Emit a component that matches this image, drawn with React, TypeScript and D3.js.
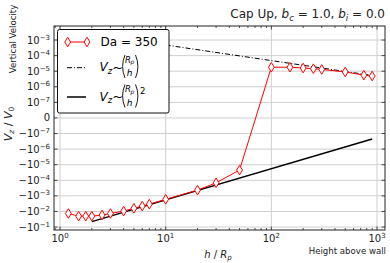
import React from "react";
import * as d3 from "d3";

// h / R_p sample heights and measured V_z / V_0 (Da = 350)
const heights = [1.2, 1.5, 1.75, 2, 2.5, 3, 4, 5, 6, 7, 10, 20, 30, 50, 100, 150, 200, 250, 300, 500, 750, 900];
const velocities = [
    -0.0135, -0.02, -0.02, -0.02, -0.017, -0.0135, -0.0095, -0.0063, -0.0045, -0.0034,
    -0.00166, -0.00043, -0.000145, -2.2e-5,
    1.8e-5, 1.8e-5, 1.6e-5, 1.45e-5, 1.3e-5, 8.9e-6, 5.6e-6, 4.9e-6,
];

// reference power laws (end points)
const slopeOneH = [10, 900];
const slopeOneV = [4.8e-4, 5.33e-6];
const slopeTwoH = [2, 900];
const slopeTwoV = [-0.045, -2.22e-7];

const xTickVals = [1, 10, 100, 1000];
const xTickExp = ["0", "1", "2", "3"];
const yTickVals = [1e-3, 1e-4, 1e-5, 1e-6, 1e-7, 0, -1e-7, -1e-6, -1e-5, -1e-4, -1e-3, -1e-2, -1e-1];
const yTickExp = ["−3", "−4", "−5", "−6", "−7", "", "−7", "−6", "−5", "−4", "−3", "−2", "−1"];

const LINTHRESH = 1e-7;
// matplotlib-like symlog with linscale = 1
function symlog(v: number): number {
    const a = Math.abs(v);
    if (a <= LINTHRESH) return v / LINTHRESH;
    return Math.sign(v) * (Math.log10(a / LINTHRESH) + 1);
}

const FONT = "DejaVu Sans, sans-serif";

function Diamond({ cx, cy }: { cx: number, cy: number }) {
    const w = 2.9, h = 4.8;
    return <path d={`M${cx},${cy - h}L${cx + w},${cy}L${cx},${cy + h}L${cx - w},${cy}Z`}
        fill="white" stroke="#ff0000" strokeWidth={1} />;
}

// tall parenthesis drawn as a curve
function Paren({ x, top, bottom, left }: { x: number, top: number, bottom: number, left: boolean }) {
    const mid = (top + bottom) / 2;
    const w = 3;
    const d = left
        ? `M${x + w},${top}Q${x - w * 0.6},${mid} ${x + w},${bottom}`
        : `M${x},${top}Q${x + w * 1.6},${mid} ${x},${bottom}`;
    return <path d={d} fill="none" stroke="black" strokeWidth={0.9} />;
}

function PowerLaw({ x, y, sq }: { x: number, y: number, sq: boolean }) {
    // V_z ~ (R_p / h)[^2]
    return <g fontFamily={FONT} fill="black">
        <text x={x} y={y} fontSize={12} fontStyle="italic">V</text>
        <text x={x + 8.3} y={y + 2.5} fontSize={8.5} fontStyle="italic">z</text>
        <text x={x + 12.8} y={y + 0.5} fontSize={13}>~</text>
        <Paren x={x + 22.5} top={y - 16} bottom={y + 7} left={true} />
        <text x={x + 25.5} y={y - 8.5} fontSize={8.5} fontStyle="italic">R</text>
        <text x={x + 31} y={y - 7} fontSize={6} fontStyle="italic">p</text>
        <text x={x + 30} y={y + 5.3} fontSize={9} fontStyle="italic" textAnchor="middle">h</text>
        <Paren x={x + 36} top={y - 16} bottom={y + 7} left={false} />
        {sq && <text x={x + 40.5} y={y - 7} fontSize={8.5}>2</text>}
    </g>;
}

export default function App() {
    const width = 390, height = 263;
    const margin = { top: 26, right: 5, bottom: 33, left: 54 };
    const x0 = margin.left, x1 = width - margin.right;
    const y0 = margin.top, y1 = height - margin.bottom;

    const x = d3.scaleLog([0.877, 1190], [x0, x1]);
    const yLin = d3.scaleLinear([-7.19, 5.9], [y1, y0]);
    const y = (v: number) => yLin(symlog(v));

    const line = d3.line<[number, number]>()
        .x(d => x(d[0]))
        .y(d => y(d[1]));

    const data = heights.map((h, i) => [h, velocities[i]] as [number, number]);
    const fit1 = slopeOneH.map((h, i) => [h, slopeOneV[i]] as [number, number]);
    const fit2 = slopeTwoH.map((h, i) => [h, slopeTwoV[i]] as [number, number]);

    const minorX: number[] = [];
    for (let e = -1; e <= 3; e++) {
        for (let k = 2; k <= 9; k++) {
            const v = k * Math.pow(10, e);
            if (v > 0.877 && v < 1190) minorX.push(v);
        }
    }

    const grid = "#cfcfcf";
    const legend = { x: 57.5, y: 29.5, w: 111.5, h: 83.5 };

    return <svg width={width} height={height} style={{ position: "absolute", left: 0, top: 0 }}>
        <rect width={width} height={height} fill="white" />
        <defs>
            <clipPath id="plot"><rect x={x0} y={y0} width={x1 - x0} height={y1 - y0} /></clipPath>
        </defs>

        {/* grid */}
        <g stroke={grid} strokeWidth={1}>
            {xTickVals.map((t, i) => <line key={i} x1={x(t)} x2={x(t)} y1={y0} y2={y1} />)}
            {yTickVals.map((t, i) => <line key={i} x1={x0} x2={x1} y1={y(t)} y2={y(t)} />)}
        </g>

        {/* series */}
        <g clipPath="url(#plot)">
            <path d={line(fit1)!} fill="none" stroke="black" strokeWidth={1} strokeDasharray="5,2,1,2" />
            <path d={line(fit2)!} fill="none" stroke="black" strokeWidth={1.5} />
            <path d={line(data)!} fill="none" stroke="#ff0000" strokeWidth={1} />
            {data.map((d, i) => <Diamond key={i} cx={x(d[0])} cy={y(d[1])} />)}
        </g>

        {/* ticks */}
        <g stroke="#222" strokeWidth={0.8}>
            {xTickVals.map((t, i) => <g key={i}>
                <line x1={x(t)} x2={x(t)} y1={y1} y2={y1 - 3.5} />
                <line x1={x(t)} x2={x(t)} y1={y0} y2={y0 + 3.5} />
            </g>)}
            {minorX.map((t, i) => <g key={i}>
                <line x1={x(t)} x2={x(t)} y1={y1} y2={y1 - 2} />
                <line x1={x(t)} x2={x(t)} y1={y0} y2={y0 + 2} />
            </g>)}
            {yTickVals.map((t, i) => <g key={i}>
                <line x1={x0} x2={x0 + 3.5} y1={y(t)} y2={y(t)} />
                <line x1={x1} x2={x1 - 3.5} y1={y(t)} y2={y(t)} />
            </g>)}
        </g>
        <rect x={x0} y={y0} width={x1 - x0} height={y1 - y0} fill="none" stroke="#222" strokeWidth={1} />

        {/* tick labels */}
        <g fontFamily={FONT} fontSize={10} fill="#222">
            {xTickVals.map((t, i) => <text key={i} x={x(t)} y={y1 + 12} textAnchor="middle">
                10<tspan fontSize={7} dy={-4}>{xTickExp[i]}</tspan>
            </text>)}
            {yTickVals.map((t, i) => <text key={i} x={x0 - 4} y={y(t) + 3.5} textAnchor="end">
                {t === 0 ? "0" : <>{t < 0 ? "−" : ""}10<tspan fontSize={7} dy={-4}>{yTickExp[i]}</tspan></>}
            </text>)}
        </g>

        {/* axis labels */}
        <g fontFamily={FONT} fill="#222">
            <text x={218} y={258} fontSize={10} textAnchor="middle">
                <tspan fontStyle="italic">h</tspan> / <tspan fontStyle="italic">R</tspan><tspan fontStyle="italic" fontSize={7} dy={2}>p</tspan>
            </text>
            <text x={386} y={254} fontSize={8.6} textAnchor="end">Height above wall</text>
            <text transform="translate(12,124) rotate(-90)" fontSize={11} textAnchor="middle">
                <tspan fontStyle="italic">V</tspan><tspan fontStyle="italic" fontSize={7.5} dy={2}>z</tspan><tspan dy={-2}> / </tspan><tspan fontStyle="italic">V</tspan><tspan fontSize={7.5} dy={2}>0</tspan>
            </text>
            <text transform="translate(15.5,39) rotate(-90)" fontSize={8.6} textAnchor="middle">Vertical Velocity</text>
            <text x={385} y={18} fontSize={12} textAnchor="end">
                Cap Up, <tspan fontStyle="italic">b</tspan><tspan fontStyle="italic" fontSize={8.5} dy={2.5}>c</tspan><tspan dy={-2.5}> = 1.0, </tspan><tspan fontStyle="italic">b</tspan><tspan fontStyle="italic" fontSize={8.5} dy={2.5}>i</tspan><tspan dy={-2.5}> = 0.0</tspan>
            </text>
        </g>

        {/* legend */}
        <g>
            <rect x={legend.x} y={legend.y} width={legend.w} height={legend.h} rx={2} fill="white" stroke="#111" strokeWidth={1} />
            <line x1={67.7} x2={87} y1={42} y2={42} stroke="#ff0000" strokeWidth={1} />
            <Diamond cx={67.7} cy={42} />
            <Diamond cx={87} cy={42} />
            <text x={100.5} y={46} fontFamily={FONT} fontSize={12}>Da = 350</text>
            <line x1={67} x2={86} y1={67.7} y2={67.7} stroke="black" strokeWidth={1} strokeDasharray="5,2,1,2" />
            <PowerLaw x={99.5} y={71} sq={false} />
            <line x1={67} x2={86} y1={97} y2={97} stroke="black" strokeWidth={1.5} />
            <PowerLaw x={99.5} y={100.5} sq={true} />
        </g>
    </svg>;
}
